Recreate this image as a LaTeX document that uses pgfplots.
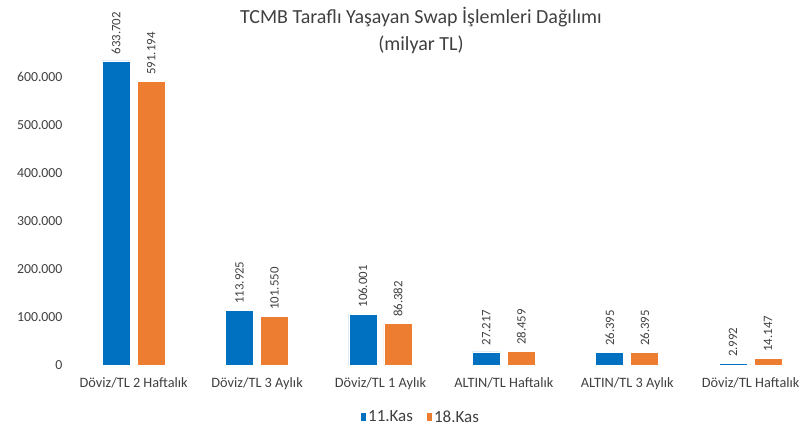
\documentclass[border=0pt]{standalone}
\usepackage{fontspec}
\setmainfont{Carlito}
\usepackage{pgfplots}
\pgfplotsset{compat=1.18}
\definecolor{cblue}{HTML}{0070C0}
\definecolor{corange}{HTML}{ED7D31}
\definecolor{txt}{HTML}{404040}
\begin{document}
\begin{tikzpicture}
\useasboundingbox (-72pt,-63pt) rectangle (732pt,365pt);
\begin{axis}[
  at={(0,0)}, anchor=south west,
  scale only axis,
  width=728pt, height=336pt,
  ybar=7pt, bar width=28pt,
  xmin=-0.5, xmax=5.4,
  ymin=0, ymax=700000,
  axis line style={draw=none},
  tick style={draw=none},
  xtick={0,1,2,3,4,5},
  xticklabels={Döviz/TL 2 Haftalık, Döviz/TL 3 Aylık, Döviz/TL 1 Aylık, ALTIN/TL Haftalık, ALTIN/TL 3 Aylık, Döviz/TL Haftalık},
  ytick={0,100000,200000,300000,400000,500000,600000},
  scaled y ticks=false,
  /pgf/number format/assume math mode=true,
  /pgf/number format/fixed,
  /pgf/number format/precision=0,
  /pgf/number format/1000 sep={.},
  yticklabel style={font=\fontsize{13.8}{16}\selectfont, text=txt, xshift=-6pt},
  xticklabel style={font=\fontsize{14.3}{16}\selectfont, text=txt, yshift=-5pt},
  nodes near coords,
  every node near coord/.append style={rotate=90, anchor=west, font=\fontsize{12.8}{14}\selectfont, text=txt, xshift=3pt},
  legend style={at={(axis description cs:0.4794,-0.155)}, anchor=center, draw=none, legend columns=2, font=\fontsize{17}{19}\selectfont, text=txt,
    /tikz/every even column/.append style={column sep=12pt}},
  legend image code/.code={\fill[#1, draw=none] (0.08cm,-0.14cm) rectangle (0.26cm,0.14cm);},
  clip=false,
]
\addplot[fill=cblue, draw=white, line width=0.6pt] coordinates {(0,633702) (1,113925) (2,106001) (3,27217) (4,26395) (5,2992)};
\addplot[fill=corange, draw=white, line width=0.6pt] coordinates {(0,591194) (1,101550) (2,86382) (3,28459) (4,26395) (5,14147)};
\legend{11.Kas, 18.Kas}
\node[align=center, font=\fontsize{20}{27}\selectfont, text=txt] at (axis description cs:0.4794,0.9955) {TCMB Taraflı Yaşayan Swap İşlemleri Dağılımı\\(milyar TL)};
\end{axis}
\end{tikzpicture}
\end{document}
